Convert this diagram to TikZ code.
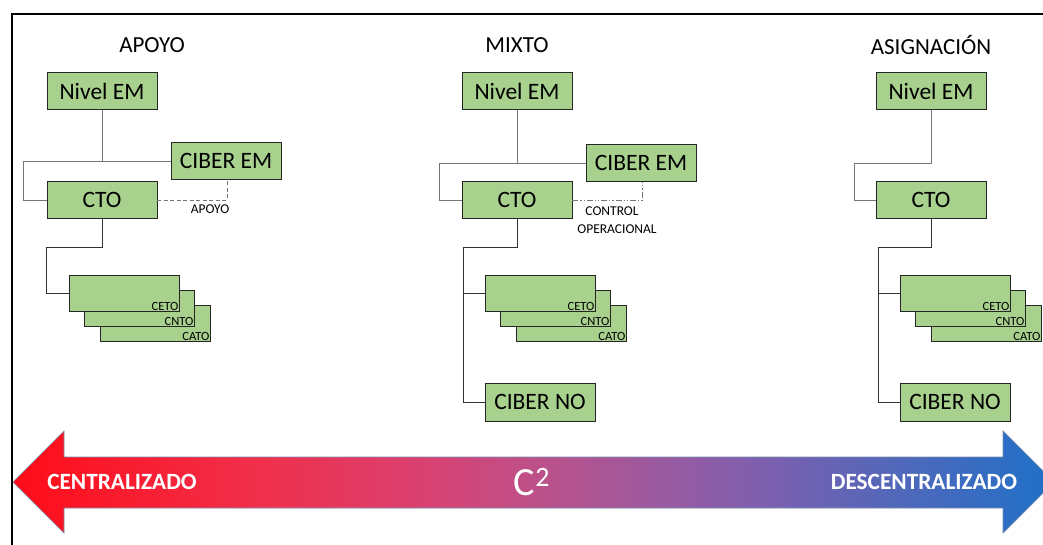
\documentclass[tikz,border=0pt]{standalone}
\usepackage{fontspec}
\setmainfont{Carlito}
\definecolor{boxgreen}{RGB}{169,209,142}
\definecolor{linegray}{RGB}{118,118,118}
\definecolor{arrred}{RGB}{255,12,24}
\definecolor{sa}{RGB}{240,48,76}
\definecolor{sb}{RGB}{218,64,112}
\definecolor{sc}{RGB}{190,80,136}
\definecolor{sd}{RGB}{154,90,160}
\definecolor{se}{RGB}{120,96,176}
\definecolor{sf}{RGB}{80,104,186}
\definecolor{arrblue}{RGB}{30,112,200}
\definecolor{arredge}{RGB}{120,140,175}
\pgfdeclarehorizontalshading{c2shade}{100bp}{color(0bp)=(arrred); color(25bp)=(arrred); color(36.9bp)=(sa); color(44.5bp)=(sb); color(49.9bp)=(sc); color(56.1bp)=(sd); color(61.8bp)=(se); color(67.6bp)=(sf); color(75bp)=(arrblue); color(100bp)=(arrblue)}
\begin{document}
\begin{tikzpicture}[x=1pt,y=-1pt,
  box/.style={draw=black!85, line width=0.8pt, fill=boxgreen, minimum width=110pt, minimum height=37pt, inner sep=0pt, font=\fontsize{23.5}{25}\selectfont},
  stk/.style={draw=black!85, line width=0.8pt, fill=boxgreen, minimum width=110pt, minimum height=36pt, inner sep=0pt},
  tiny/.style={font=\fontsize{12.5}{13}\selectfont, inner sep=0.8pt, anchor=south east},
  title/.style={font=\fontsize{23}{25}\selectfont, inner sep=0pt},
  small/.style={font=\fontsize{13.5}{15}\selectfont, inner sep=0pt},
  conn/.style={draw=linegray, line width=0.9pt},
  conn2/.style={draw=black!80, line width=0.9pt},
  bigtxt/.style={text=white, font=\fontsize{23.3}{25}\selectfont\bfseries, inner sep=0pt}
]
\clip (0,0) rectangle (1043,545);
\fill[white] (0,0) rectangle (1043,545);
% frame
\draw[line width=2pt] (12,545) -- (12,14) -- (1043,14);

% ===== APOYO =====
\node[title] (t1) at (152,45) {APOYO};
\node[box] (nem1) at (102,91) {Nivel EM};
\node[box] (ciber1) at (226,161) {CIBER EM};
\node[box] (cto1) at (102,200) {CTO};
\node[stk] (s1c) at (155,323) {};
\node[stk] (s1b) at (139,308) {};
\node[stk] (s1a) at (124,293) {};
\node[tiny] (l1a) at (s1a.south east) {CETO};
\node[tiny] (l1b) at (s1b.south east) {CNTO};
\node[tiny] (l1c) at (s1c.south east) {CATO};
\coordinate (j1) at (23,161);
\coordinate (k1) at (46,247);
\coordinate (d1) at (227,200);
\draw[conn] (nem1.south) -- (nem1.south |- j1);
\draw[conn] (ciber1.west) -- (j1) |- (cto1.west);
\draw[conn2] (cto1.south) |- (k1) |- (s1a.west);
\draw[draw=linegray, line width=0.9pt, dash pattern=on 4pt off 2.5pt] (cto1.east) -- (d1) -- (d1 |- ciber1.south);
\node[small] (ap1) at (210,209) {APOYO};

% ===== MIXTO =====
\node[title] (t2) at (517,45) {MIXTO};
\node[box] (nem2) at (517,91) {Nivel EM};
\node[box] (ciber2) at (641,163) {CIBER EM};
\node[box] (cto2) at (517,200) {CTO};
\node[stk] (s2c) at (571,323) {};
\node[stk] (s2b) at (555,308) {};
\node[stk] (s2a) at (540,293) {};
\node[tiny] (l2a) at (s2a.south east) {CETO};
\node[tiny] (l2b) at (s2b.south east) {CNTO};
\node[tiny] (l2c) at (s2c.south east) {CATO};
\node[box, minimum height=38pt] (cno2) at (540,402) {CIBER NO};
\coordinate (j2) at (439,163);
\coordinate (k2) at (463,247);
\coordinate (d2) at (642,200);
\draw[conn] (nem2.south) -- (nem2.south |- j2);
\draw[conn] (ciber2.west) -- (j2) |- (cto2.west);
\draw[conn2] (cto2.south) |- (k2) |- (cno2.west);
\draw[conn2] (k2 |- s2a.west) -- (s2a.west);
\draw[draw=linegray, line width=0.9pt, dash pattern=on 6pt off 2pt on 1.2pt off 2pt on 1.2pt off 2pt] (cto2.east) -- (d2) -- (d2 |- ciber2.south);
\node[small] (co2) at (612,211) {CONTROL};
\node[small] (op2) at (617,229) {OPERACIONAL};

% ===== ASIGNACION =====
\node[title] (t3) at (931,45) {ASIGNACIÓN};
\node[box] (nem3) at (931,91) {Nivel EM};
\node[box] (cto3) at (931,200) {CTO};
\node[stk] (s3c) at (986,323) {};
\node[stk] (s3b) at (970,308) {};
\node[stk] (s3a) at (955,293) {};
\node[tiny] (l3a) at (s3a.south east) {CETO};
\node[tiny] (l3b) at (s3b.south east) {CNTO};
\node[tiny] (l3c) at (s3c.south east) {CATO};
\node[box, minimum height=38pt] (cno3) at (955,402) {CIBER NO};
\coordinate (j3) at (854,163);
\coordinate (k3) at (878,247);
\draw[conn] (nem3.south) |- (j3) |- (cto3.west);
\draw[conn2] (cto3.south) |- (k3) |- (cno3.west);
\draw[conn2] (k3 |- s3a.west) -- (s3a.west);

% ===== big arrow =====
\shade[shading=c2shade]
  (13,482) -- (64,431) -- (64,457) -- (1003,457) -- (1003,431) -- (1054,482)
  -- (1003,533) -- (1003,508) -- (64,508) -- (64,533) -- cycle;
\draw[draw=arredge, line width=0.7pt]
  (13,482) -- (64,431) -- (64,457) -- (1003,457) -- (1003,431) -- (1054,482)
  -- (1003,533) -- (1003,508) -- (64,508) -- (64,533) -- cycle;
\node[bigtxt] (cen) at (122,482) {CENTRALIZADO};
\node[bigtxt] (des) at (924,482) {DESCENTRALIZADO};
\node[text=white, font=\fontsize{40}{42}\selectfont, inner sep=0pt] (c2) at (532,482) {C\textsuperscript{2}};
\end{tikzpicture}
\end{document}
